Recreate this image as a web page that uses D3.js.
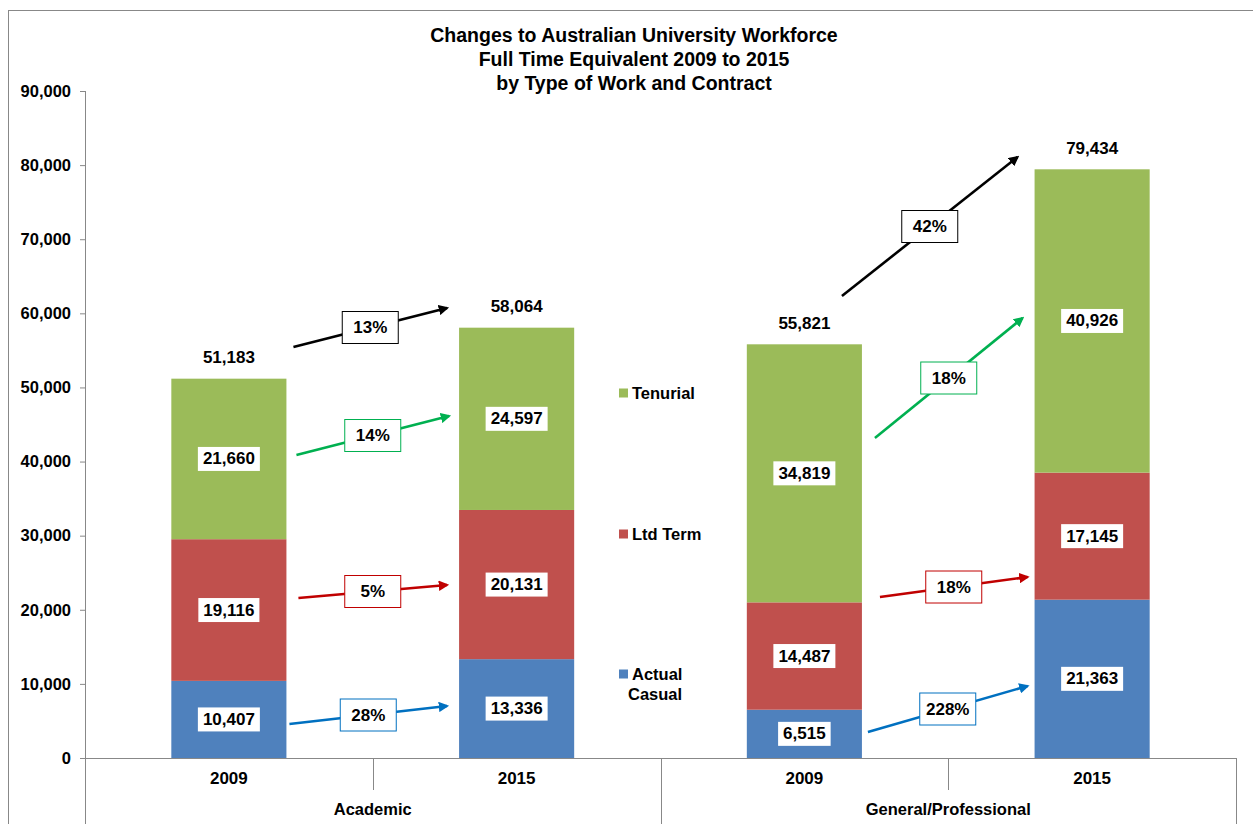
<!DOCTYPE html>
<html>
<head>
<meta charset="utf-8">
<script src="https://cdn.jsdelivr.net/npm/d3@7"></script>
<style>
  body { margin: 0; background: #fff; }
  svg text { font-family: Arial, "Liberation Sans", sans-serif; font-weight: bold; fill: #000; }
</style>
</head>
<body>
<div id="chart"></div>
<script>
// data
let groups = ['Academic', 'General/Professional'];
let years = ['2009', '2015'];
let series = ['Actual Casual', 'Ltd Term', 'Tenurial'];
let casual = [10407, 13336, 6515, 21363];
let ltdTerm = [19116, 20131, 14487, 17145];
let tenurial = [21660, 24597, 34819, 40926];
let yTicks = [0, 10000, 20000, 30000, 40000, 50000, 60000, 70000, 80000, 90000];

// change arrows: from bar i to bar i+1, values in data units where the arrow starts / ends
let arrowFrom = [0, 0, 0, 0, 2, 2, 2, 2];
let arrowKind = ['total', 'Tenurial', 'Ltd Term', 'Actual Casual', 'total', 'Tenurial', 'Ltd Term', 'Actual Casual'];
let arrowStart = [55456, 40884, 21589, 4588, 62339, 43178, 21723, 3508];
let arrowEnd = [60719, 46146, 23343, 7016, 81093, 59369, 24422, 9715];
let arrowLabel = ['13%', '14%', '5%', '28%', '42%', '18%', '18%', '228%'];

let width = 1253;
let height = 824;
let margin = { top: 91, right: 17, bottom: 66, left: 85 };

let colors = { 'Actual Casual': '#4F81BD', 'Ltd Term': '#C0504D', 'Tenurial': '#9BBB59' };
let arrowColors = { total: '#000000', 'Tenurial': '#00B050', 'Ltd Term': '#C00000', 'Actual Casual': '#0070C0' };
// nudges of arrow ends in px, relative to bar edges
let startNudge = [7, 10, 12, 3, -20, 13, 18, 6];
let endNudge = [-12, -10, -12, -12, -17, -12, -7, -7];

let svg = d3.select('#chart').append('svg')
  .attr('width', width)
  .attr('height', height);

// outer frame (cut off at right and bottom like the original)
svg.append('rect')
  .attr('x', 8.5).attr('y', 10.5)
  .attr('width', width + 20).attr('height', height + 20)
  .attr('fill', 'none').attr('stroke', '#888').attr('stroke-width', 1);

let bars = [];
groups.forEach((g, gi) => {
  years.forEach((yr, yi) => {
    let i = gi * 2 + yi;
    bars.push({ key: g + ' ' + yr, group: g, year: yr, i: i,
      values: { 'Actual Casual': casual[i], 'Ltd Term': ltdTerm[i], 'Tenurial': tenurial[i] } });
  });
});

let x = d3.scaleBand()
  .domain(bars.map(d => d.key))
  .range([margin.left, width - margin.right])
  .paddingInner(0.6)
  .paddingOuter(0.3);

let y = d3.scaleLinear()
  .domain([0, 90000])
  .range([height - margin.bottom, margin.top]);

let stack = d3.stack()
  .keys(series)
  .value((d, k) => d.values[k]);
let stacked = stack(bars);

let fmt = d3.format(',');

// bars
let layer = svg.selectAll('.layer')
  .data(stacked)
  .enter().append('g')
  .attr('class', 'layer')
  .attr('fill', d => colors[d.key]);

layer.selectAll('rect')
  .data(d => d)
  .enter().append('rect')
  .attr('x', d => x(d.data.key))
  .attr('y', d => y(d[1]))
  .attr('width', x.bandwidth())
  .attr('height', d => y(d[0]) - y(d[1]));

// value labels in boxes
stacked.forEach(s => {
  s.forEach(d => {
    let cx = x(d.data.key) + x.bandwidth() / 2;
    let cy = y((d[0] + d[1]) / 2);
    let g = svg.append('g').attr('class', 'seg-label');
    let t = g.append('text')
      .attr('x', cx).attr('y', cy)
      .attr('text-anchor', 'middle')
      .attr('dominant-baseline', 'central')
      .style('font-size', '17px')
      .text(fmt(d.data.values[s.key]));
    let w = t.node().getComputedTextLength();
    g.insert('rect', 'text')
      .attr('x', cx - w / 2 - 5).attr('y', cy - 12)
      .attr('width', w + 10).attr('height', 24)
      .attr('fill', '#fff');
  });
});

// totals
let totals = bars.map(d => d3.sum(series, k => d.values[k]));
svg.selectAll('.total')
  .data(bars)
  .enter().append('text')
  .attr('class', 'total')
  .attr('x', d => x(d.key) + x.bandwidth() / 2)
  .attr('y', (d, i) => y(totals[i]) - 21)
  .attr('text-anchor', 'middle')
  .attr('dominant-baseline', 'central')
  .style('font-size', '17px')
  .text((d, i) => fmt(totals[i]));

// y axis
let yAxis = d3.axisLeft(y)
  .tickValues(yTicks)
  .tickFormat(fmt)
  .tickSize(5)
  .tickPadding(9);

let yg = svg.append('g')
  .attr('transform', `translate(${margin.left},0)`)
  .call(yAxis);
yg.select('.domain').remove();
yg.selectAll('.tick line').attr('stroke', '#888');
yg.selectAll('.tick text').style('font-size', '16.5px');
svg.append('line')
  .attr('x1', margin.left + 0.5).attr('x2', margin.left + 0.5)
  .attr('y1', y(90000)).attr('y2', height)
  .attr('stroke', '#888');

// category axis
let x0 = margin.left;
let x1 = width - margin.right;
let base = y(0);
svg.append('line')
  .attr('x1', x0).attr('x2', x1)
  .attr('y1', base + 0.5).attr('y2', base + 0.5)
  .attr('stroke', '#888');

let step = x.step();
let seps = [1, 2, 3, 4];
svg.selectAll('.sep')
  .data(seps)
  .enter().append('line')
  .attr('class', 'sep')
  .attr('x1', d => Math.round(x0 + d * step) + 0.5)
  .attr('x2', d => Math.round(x0 + d * step) + 0.5)
  .attr('y1', base)
  .attr('y2', d => d % 2 === 0 ? height : base + 32)
  .attr('stroke', '#888');

svg.selectAll('.year')
  .data(bars)
  .enter().append('text')
  .attr('class', 'year')
  .attr('x', d => x(d.key) + x.bandwidth() / 2)
  .attr('y', base + 20)
  .attr('text-anchor', 'middle')
  .attr('dominant-baseline', 'central')
  .style('font-size', '17px')
  .text(d => d.year);

svg.selectAll('.group')
  .data(groups)
  .enter().append('text')
  .attr('class', 'group')
  .attr('x', (d, i) => x0 + (i * 2 + 1) * step)
  .attr('y', base + 51)
  .attr('text-anchor', 'middle')
  .attr('dominant-baseline', 'central')
  .style('font-size', '16.5px')
  .text(d => d);

// title
let titleLines = ['Changes to Australian University Workforce', 'Full Time Equivalent 2009 to 2015', 'by Type of Work and Contract'];
svg.append('text')
  .attr('text-anchor', 'middle')
  .style('font-size', '19.5px')
  .selectAll('tspan')
  .data(titleLines)
  .enter().append('tspan')
  .attr('x', 634)
  .attr('y', (d, i) => 42 + i * 24)
  .text(d => d);

// legend
let legendY = [393, 534, 674];
let legend = svg.selectAll('.legend')
  .data(series.slice().reverse())
  .enter().append('g')
  .attr('class', 'legend')
  .attr('transform', (d, i) => `translate(619, ${legendY[i]})`);
legend.append('rect')
  .attr('x', 0).attr('y', -4.5)
  .attr('width', 9).attr('height', 9)
  .attr('fill', d => colors[d]);
legend.append('text')
  .attr('x', 13).attr('y', 0)
  .attr('dominant-baseline', 'central')
  .style('font-size', '16.5px')
  .selectAll('tspan')
  .data(d => d === 'Actual Casual' ? ['Actual', 'Casual'] : [d])
  .enter().append('tspan')
  .attr('x', (d, i) => i === 0 ? 13 : 9)
  .attr('dy', (d, i) => i === 0 ? 0 : 20)
  .text(d => d);

// arrows
let defs = svg.append('defs');
Object.keys(arrowColors).forEach((k, i) => {
  defs.append('marker')
    .attr('id', 'head' + i)
    .attr('viewBox', '0 0 10 10')
    .attr('refX', 8).attr('refY', 5)
    .attr('markerWidth', 4).attr('markerHeight', 4)
    .attr('orient', 'auto')
    .append('path')
    .attr('d', 'M0,0 L10,5 L0,10 Z')
    .attr('fill', arrowColors[k]);
});
let kinds = Object.keys(arrowColors);

arrowFrom.forEach((b, i) => {
  let color = arrowColors[arrowKind[i]];
  let ax0 = x(bars[b].key) + x.bandwidth() + startNudge[i];
  let ax1 = x(bars[b + 1].key) + endNudge[i];
  let ay0 = y(arrowStart[i]);
  let ay1 = y(arrowEnd[i]);
  svg.append('line')
    .attr('x1', ax0).attr('y1', ay0)
    .attr('x2', ax1).attr('y2', ay1)
    .attr('stroke', color)
    .attr('stroke-width', 2.6)
    .attr('marker-end', `url(#head${kinds.indexOf(arrowKind[i])})`);

  let mx = (ax0 + ax1) / 2;
  let my = (ay0 + ay1) / 2;
  let g = svg.append('g');
  let t = g.append('text')
    .attr('x', mx).attr('y', my)
    .attr('text-anchor', 'middle')
    .attr('dominant-baseline', 'central')
    .style('font-size', '17px')
    .text(arrowLabel[i]);
  let w = Math.max(56, t.node().getComputedTextLength() + 12);
  g.insert('rect', 'text')
    .attr('x', mx - w / 2).attr('y', my - 16)
    .attr('width', w).attr('height', 32)
    .attr('fill', '#fff')
    .attr('stroke', color)
    .attr('stroke-width', 1);
});
</script>
</body>
</html>
